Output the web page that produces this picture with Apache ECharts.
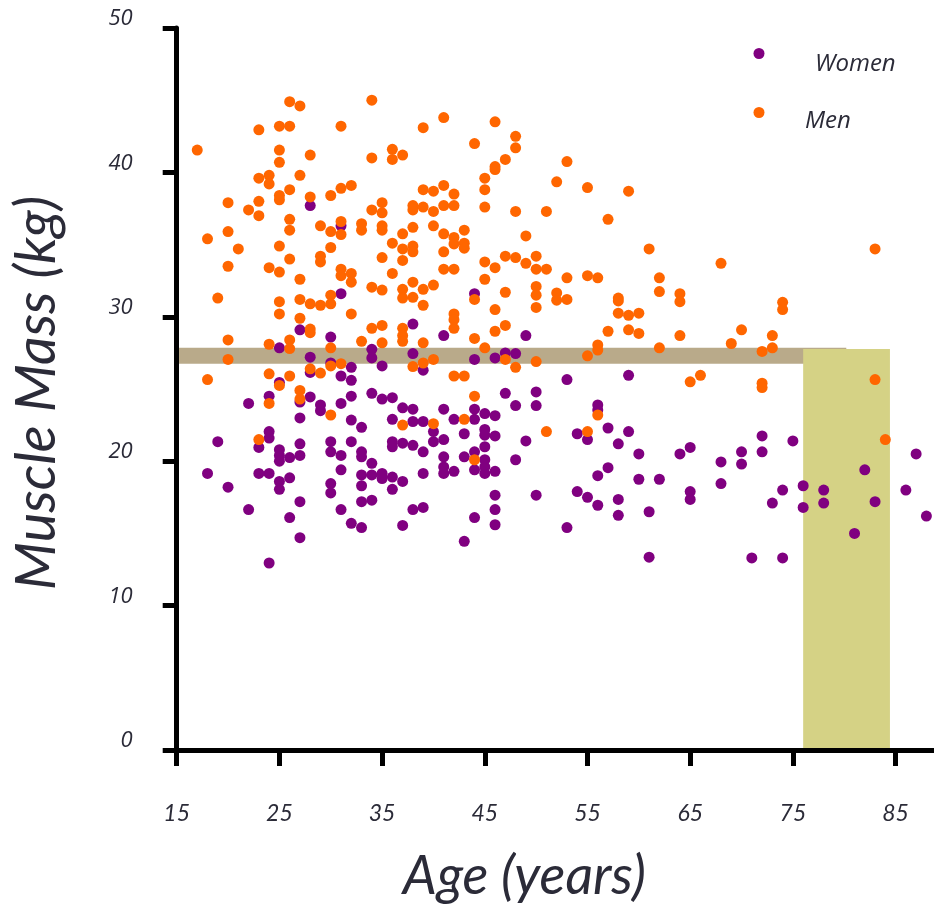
<!DOCTYPE html>
<html>
<head>
<meta charset="utf-8">
<script src="https://cdn.jsdelivr.net/npm/echarts@6/dist/echarts.min.js"></script>
<style>
html,body{margin:0;padding:0;background:#fff;}
#chart{width:934px;height:904px;}
</style>
</head>
<body>
<div id="chart"></div>
<script>
const seriesNames = ['Women', 'Men'];
const xTickLabels = [15, 25, 35, 45, 55, 65, 75, 85];
const yTickLabels = [0, 10, 20, 30, 40, 50];

const women = [
[18,19.15],[19,21.35],[20,18.2],[22,24.0],[22,16.65],[23,20.95],[23,19.15],
[24,24.5],[24,22.05],[24,21.6],[24,19.15],[24,12.95],
[25,27.85],[25,25.45],[25,20.8],[25,20.4],[25,20.0],[25,18.6],[25,18.05],
[26,20.25],[26,18.85],[26,16.1],
[27,29.1],[27,24.1],[27,23.0],[27,21.2],[27,20.4],[27,17.2],[27,14.7],
[28,37.7],[28,27.2],[28,26.15],[28,24.45],
[29,23.9],[29,23.5],
[30,28.6],[30,26.8],[30,21.35],[30,20.65],[30,18.45],[30,17.8],
[31,36.3],[31,31.6],[31,25.9],[31,24.0],[31,20.4],[31,19.4],[31,16.65],
[32,26.5],[32,25.6],[32,24.5],[32,22.85],[32,21.35],[32,15.7],
[33,22.35],[33,20.65],[33,20.3],[33,19.05],[33,18.3],[33,17.2],[33,15.4],
[34,27.75],[34,27.15],[34,24.7],[34,19.85],[34,19.05],[34,17.3],
[35,26.6],[35,24.3],[35,19.15],[35,18.8],
[36,24.4],[36,22.9],[36,21.35],[36,21.0],[36,18.9],[36,18.05],
[37,23.7],[37,21.25],[37,18.6],[37,15.55],
[38,29.5],[38,27.45],[38,23.6],[38,22.75],[38,21.1],[38,16.65],
[39,26.3],[39,22.75],[39,20.65],[39,19.15],[39,16.8],
[40,22.05],[40,21.35],
[41,28.7],[41,23.6],[41,21.5],[41,20.3],[41,19.6],[41,19.15],
[42,22.9],[42,19.3],
[43,21.9],[43,20.3],[43,14.45],
[44,31.6],[44,27.05],[44,23.6],[44,22.9],[44,20.65],[44,19.4],[44,16.1],
[45,23.3],[45,22.2],[45,21.8],[45,21.0],[45,20.1],[45,19.6],[45,19.15],
[46,27.15],[46,23.15],[46,21.75],[46,19.3],[46,17.65],[46,16.65],[46,15.6],
[47,27.5],[47,24.7],
[48,27.45],[48,23.85],[48,20.1],
[49,28.7],[49,21.4],
[50,24.8],[50,23.85],[50,17.65],
[53,25.65],[53,15.4],
[54,21.9],[54,17.9],
[55,21.5],[55,17.5],
[56,23.9],[56,23.55],[56,19.0],[56,16.95],
[57,22.3],[57,19.55],
[58,21.2],[58,17.35],[58,16.25],
[59,25.95],[59,22.05],
[60,20.5],[60,18.75],
[61,16.5],[61,13.35],
[62,18.75],
[64,20.5],
[65,20.95],[65,17.9],[65,17.35],
[68,19.95],[68,18.45],
[70,20.65],[70,19.8],
[71,13.3],
[72,21.75],[72,20.65],
[73,17.1],
[74,18.0],[74,13.3],
[75,21.4],
[76,18.3],[76,16.8],
[78,18.0],[78,17.1],
[81,15.0],[82,19.4],[83,17.2],[86,18.0],[87,20.5],[88,16.2]
];

const men = [
[17,41.55],
[18,35.4],[18,25.65],
[19,31.3],
[20,37.9],[20,35.9],[20,33.5],[20,28.4],[20,27.05],
[21,34.7],
[22,37.4],
[23,42.95],[23,39.6],[23,38.0],[23,37.0],[23,21.5],
[24,39.8],[24,39.2],[24,33.4],[24,28.1],[24,26.05],[24,24.0],
[25,43.2],[25,41.55],[25,40.7],[25,38.4],[25,38.1],[25,34.9],[25,33.1],[25,31.05],[25,30.2],[25,25.25],
[26,44.9],[26,43.2],[26,38.8],[26,36.75],[26,36.0],[26,34.0],[26,28.4],[26,27.8],[26,25.9],
[27,44.6],[27,39.8],[27,32.6],[27,31.2],[27,29.9],[27,24.9],[27,24.3],
[28,41.2],[28,38.3],[28,30.9],[28,29.15],[28,28.9],[28,26.4],
[29,36.3],[29,34.2],[29,33.8],[29,30.8],[29,26.1],
[30,38.4],[30,35.9],[30,34.8],[30,31.5],[30,30.9],[30,27.85],[30,26.6],[30,23.2],
[31,43.2],[31,38.9],[31,36.6],[31,35.7],[31,33.3],[31,32.85],[31,26.75],
[32,39.1],[32,33.0],[32,32.4],[32,30.2],
[33,36.45],[33,36.0],[33,28.3],
[34,45.0],[34,41.0],[34,37.4],[34,32.05],[34,29.2],
[35,37.9],[35,37.2],[35,36.3],[35,36.0],[35,34.1],[35,31.85],[35,29.4],[35,28.2],
[36,41.6],[36,40.9],[36,35.1],[36,33.0],
[37,41.2],[37,35.75],[37,34.7],[37,33.9],[37,31.9],[37,31.3],[37,29.2],[37,28.7],[37,28.3],[37,22.5],
[38,37.7],[38,37.4],[38,36.2],[38,34.9],[38,34.5],[38,32.4],[38,31.35],[38,26.55],
[39,43.1],[39,38.8],[39,37.6],[39,31.9],[39,30.8],[39,28.2],[39,26.8],
[40,38.7],[40,37.3],[40,36.3],[40,32.2],[40,27.05],[40,22.6],
[41,43.8],[41,39.1],[41,37.7],[41,35.75],[41,34.5],[41,33.3],
[42,38.5],[42,37.7],[42,35.5],[42,35.05],[42,33.3],[42,30.2],[42,29.8],[42,29.2],[42,25.9],
[43,36.0],[43,35.1],[43,34.75],[43,25.9],[43,22.9],
[44,42.0],[44,31.2],[44,28.5],[44,24.5],[44,20.1],
[45,39.6],[45,38.8],[45,37.6],[45,33.8],[45,32.6],[45,27.85],
[46,43.5],[46,40.4],[46,40.2],[46,33.4],[46,30.5],[46,29.0],
[47,40.9],[47,34.2],[47,31.7],[47,29.4],[47,27.05],
[48,42.5],[48,41.7],[48,37.3],[48,34.1],[48,26.5],
[49,35.6],[49,33.7],
[50,34.2],[50,33.3],[50,32.1],[50,31.5],[50,30.65],[50,26.9],
[51,37.3],[51,33.3],[51,22.05],
[52,39.35],[52,31.65],[52,31.15],
[53,40.75],[53,32.7],[53,31.2],
[55,38.95],[55,32.85],[55,27.3],[55,22.05],
[56,32.7],[56,28.05],[56,27.7],[56,23.2],
[57,36.75],[57,29.0],
[58,31.3],[58,31.1],[58,30.25],
[59,38.7],[59,30.1],[59,29.1],
[60,30.25],[60,28.85],
[61,34.7],
[62,32.7],[62,31.75],[62,27.85],
[64,31.6],[64,31.05],[64,28.7],
[65,25.5],
[66,25.95],
[68,33.7],
[69,28.15],
[70,29.1],
[72,27.6],[72,25.4],[72,25.1],
[73,28.7],[73,27.85],
[74,31.0],[74,30.5],
[83,34.7],[83,25.65],
[84,21.5]
];

// shaded regions: [xStart, yStart], [xEnd, yEnd]
const bandRange = [[14.15, 26.75], [80.2, 27.86]];
const boxRange = [[76.0, 0], [84.45, 27.77]];

const textColor = '#2b2b38';
const legendText = {fontFamily: 'Open Sans', fontStyle: 'italic', fontSize: 24, color: textColor};
const chart = echarts.init(document.getElementById('chart'), null, {renderer: 'canvas'});
chart.setOption({
  animation: false,
  backgroundColor: '#ffffff',
  grid: {left: 176.7, right: 0, top: 28, bottom: 154, containLabel: false, outerBoundsMode: 'none'},
  legend: [
    // markers
    {data: ['Women'], left: 753.5, top: 48, padding: 0, icon: 'circle', itemWidth: 11, itemHeight: 11,
     formatter: function () { return ''; }, textStyle: legendText},
    {data: ['Men'], left: 753.5, top: 107, padding: 0, icon: 'circle', itemWidth: 11, itemHeight: 11,
     formatter: function () { return ''; }, textStyle: legendText},
    // labels
    {data: ['Women'], left: 810, top: 52, padding: 0, icon: 'circle', itemWidth: 0, itemHeight: 0, textStyle: legendText},
    {data: ['Men'], left: 800, top: 109, padding: 0, icon: 'circle', itemWidth: 0, itemHeight: 0, textStyle: legendText}
  ],
  xAxis: {
    type: 'value', min: 15, max: 88.74, z: 5,
    name: 'Age (years)', nameLocation: 'middle', nameGap: 100,
    nameTextStyle: {fontFamily: 'Lato', fontStyle: 'italic', fontSize: 54, color: textColor, padding: [0, 62, 0, 0]},
    splitLine: {show: false},
    axisLine: {show: true, onZero: false, lineStyle: {color: '#000', width: 5, cap: 'square'}},
    axisTick: {show: true, length: 16, lineStyle: {color: '#000', width: 5}, customValues: xTickLabels},
    axisLabel: {show: true, margin: 52, customValues: xTickLabels, fontFamily: 'Lato', fontStyle: 'italic', fontSize: 23, color: textColor}
  },
  yAxis: {
    type: 'value', min: 0, max: 50, interval: 10, z: 5,
    name: 'Muscle Mass (kg)', nameLocation: 'middle', nameGap: 112,
    nameTextStyle: {fontFamily: 'Lato', fontStyle: 'italic', fontSize: 56, color: textColor, padding: [0, 8, 0, 0]},
    splitLine: {show: false},
    axisLine: {show: true, onZero: false, lineStyle: {color: '#000', width: 5}},
    axisTick: {show: true, length: 14, lineStyle: {color: '#000', width: 5}},
    axisLabel: {show: true, margin: 44, fontFamily: 'Open Sans', fontStyle: 'italic', fontSize: 22, color: textColor,
      verticalAlign: 'bottom', lineHeight: 18,
      formatter: function (v) { return yTickLabels.indexOf(v) >= 0 ? String(v) : ''; }}
  },
  series: [
    {
      type: 'scatter', name: '__areas', data: [], clip: false, silent: true, z: 1,
      markArea: {
        silent: true,
        data: [
          [{coord: bandRange[0], itemStyle: {color: '#b9aa8a', opacity: 1}}, {coord: bandRange[1]}],
          [{coord: boxRange[0], itemStyle: {color: '#d5d285', opacity: 1}}, {coord: boxRange[1]}]
        ]
      }
    },
    {type: 'scatter', name: seriesNames[0], data: women, symbolSize: 11, z: 2, itemStyle: {color: '#800080', opacity: 1}},
    {type: 'scatter', name: seriesNames[1], data: men, symbolSize: 11, z: 3, itemStyle: {color: '#ff6600', opacity: 1}}
  ]
});
</script>
</body>
</html>
